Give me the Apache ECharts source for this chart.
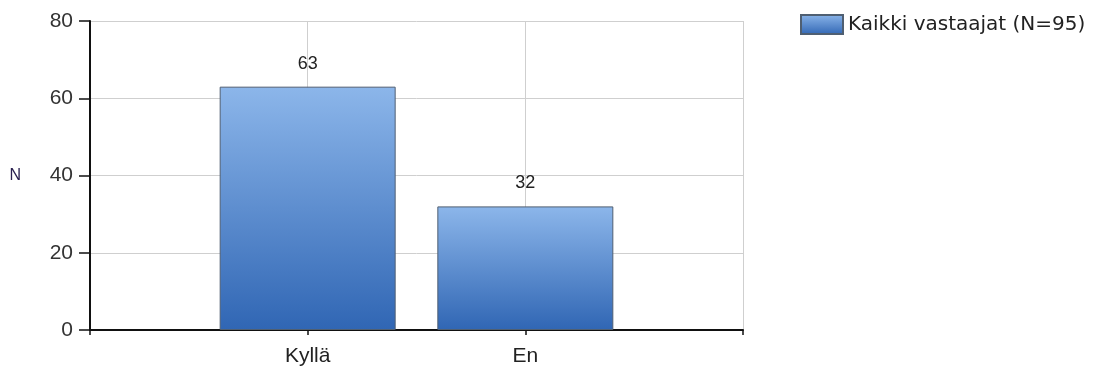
<!DOCTYPE html>
<html>
<head>
<meta charset="utf-8">
<script src="https://cdn.jsdelivr.net/npm/echarts@6/dist/echarts.min.js"></script>
<style>
  html, body { margin: 0; padding: 0; background: #fff; }
  #chart { width: 1098px; height: 371px; }
</style>
</head>
<body>
<div id="chart"></div>
<script>
// Answer categories (empty slots pad the axis on both sides)
const categories = ['', 'Kyllä', 'En', ''];
// Respondent counts per answer
const counts = [null, 63, 32, null];
const seriesName = 'Kaikki vastaajat (N=95)';
const yTicks = { min: 0, max: 80, interval: 20 };

const chart = echarts.init(document.getElementById('chart'), null, { renderer: 'canvas' });

const barFill = new echarts.graphic.LinearGradient(0, 0, 0, 1, [
  { offset: 0, color: '#8cb6ea' },
  { offset: 1, color: '#3066b4' }
]);

chart.setOption({
  animation: false,
  backgroundColor: '#ffffff',
  grid: { left: 90, right: 355, top: 21, bottom: 41, containLabel: false },
  legend: {
    show: true,
    left: 800,
    top: 14,
    padding: 0,
    itemWidth: 42,
    itemHeight: 19,
    icon: 'rect',
    itemGap: 6,
    textStyle: { fontFamily: 'DejaVu Sans', fontSize: 20, color: '#222', padding: [3, 0, 0, 0] },
    data: [seriesName]
  },
  xAxis: {
    type: 'category',
    data: categories,
    boundaryGap: false,
    axisLine: { show: true, lineStyle: { color: '#111', width: 2 } },
    axisTick: { show: true, length: 5, lineStyle: { color: '#111', width: 1.5 } },
    axisLabel: { margin: 16, fontFamily: 'Liberation Sans', fontSize: 21, color: '#222' },
    splitLine: { show: true, lineStyle: { color: '#cfcfcf', width: 1 } }
  },
  yAxis: {
    type: 'value',
    min: yTicks.min,
    max: yTicks.max,
    interval: yTicks.interval,
    name: 'N',
    nameLocation: 'middle',
    nameRotate: 0,
    nameGap: 69,
    nameTextStyle: { fontFamily: 'Liberation Sans', fontSize: 16, color: '#2a2050' },
    axisLine: { show: true, lineStyle: { color: '#111', width: 2 } },
    axisTick: { show: true, inside: false, length: 11, lineStyle: { color: '#111', width: 1.5 } },
    axisLabel: { margin: 17, fontFamily: 'Liberation Sans', fontSize: 21, color: '#333' },
    splitLine: { show: true, lineStyle: { color: '#cfcfcf', width: 1 } }
  },
  series: [{
    name: seriesName,
    type: 'bar',
    data: counts,
    barWidth: 176,
    itemStyle: { color: barFill, borderColor: '#4f5f72', borderWidth: 1 },
    label: {
      show: true,
      position: 'top',
      distance: 14,
      fontFamily: 'Liberation Sans',
      fontSize: 18,
      color: '#222'
    }
  }]
});
</script>
</body>
</html>
